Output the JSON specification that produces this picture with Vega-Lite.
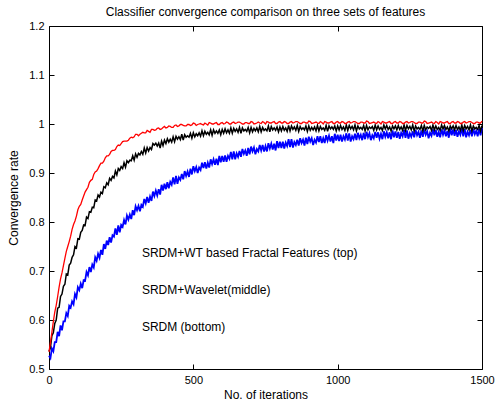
{
"$schema":"https://vega.github.io/schema/vega-lite/v6.json",
"width":433,"height":343,
"autosize":{"type":"none"},
"padding":{"left":49,"top":26,"right":13,"bottom":37},
"background":"white",
"title":{"text":"Classifier convergence comparison on three sets of features","font":"Liberation Sans","fontSize":12,"fontWeight":"normal","color":"#000","anchor":"middle","offset":1},
"config":{"view":{"stroke":"#000","strokeWidth":1},
 "axis":{"grid":false,"domain":false,"tickColor":"#000","tickSize":-5,"labelPadding":10,"labelFont":"Liberation Sans","labelFontSize":11,"labelColor":"#000","labelFlush":false,"labelOverlap":false,"titleFont":"Liberation Sans","titleFontSize":12,"titleFontWeight":"normal","titleColor":"#000"}},
"datasets":{
"curves":[
{"x":0,"r":0.535,"k":0.536,"b":0.527},{"x":10,"r":0.575,"k":0.568,"b":0.542},{"x":20,"r":0.616,"k":0.593,"b":0.555},{"x":30,"r":0.648,"k":0.624,"b":0.576},{"x":40,"r":0.684,"k":0.648,"b":0.589},{"x":50,"r":0.711,"k":0.669,"b":0.597},{"x":60,"r":0.740,"k":0.694,"b":0.614},{"x":70,"r":0.760,"k":0.712,"b":0.629},{"x":80,"r":0.785,"k":0.728,"b":0.638},{"x":90,"r":0.802,"k":0.750,"b":0.653},
{"x":100,"r":0.825,"k":0.766,"b":0.667},{"x":110,"r":0.836,"k":0.779,"b":0.674},{"x":120,"r":0.853,"k":0.794,"b":0.681},{"x":130,"r":0.866,"k":0.810,"b":0.698},{"x":140,"r":0.881,"k":0.821,"b":0.708},{"x":150,"r":0.887,"k":0.830,"b":0.713},{"x":160,"r":0.902,"k":0.845,"b":0.728},{"x":170,"r":0.909,"k":0.855,"b":0.735},{"x":180,"r":0.920,"k":0.861,"b":0.743},{"x":190,"r":0.924,"k":0.872,"b":0.755},
{"x":200,"r":0.935,"k":0.880,"b":0.762},{"x":210,"r":0.938,"k":0.889,"b":0.769},{"x":220,"r":0.946,"k":0.893,"b":0.773},{"x":230,"r":0.948,"k":0.904,"b":0.787},{"x":240,"r":0.957,"k":0.909,"b":0.793},{"x":250,"r":0.960,"k":0.913,"b":0.794},{"x":260,"r":0.965,"k":0.921,"b":0.804},{"x":270,"r":0.965,"k":0.925,"b":0.813},{"x":280,"r":0.971,"k":0.926,"b":0.815},{"x":290,"r":0.972,"k":0.935,"b":0.824},
{"x":300,"r":0.979,"k":0.939,"b":0.832},{"x":310,"r":0.976,"k":0.940,"b":0.833},{"x":320,"r":0.981,"k":0.944,"b":0.835},{"x":330,"r":0.982,"k":0.951,"b":0.847},{"x":340,"r":0.987,"k":0.952,"b":0.851},{"x":350,"r":0.983,"k":0.952,"b":0.852},{"x":360,"r":0.989,"k":0.960,"b":0.862},{"x":370,"r":0.988,"k":0.961,"b":0.864},{"x":380,"r":0.992,"k":0.961,"b":0.867},{"x":390,"r":0.990,"k":0.965,"b":0.876},
{"x":400,"r":0.995,"k":0.967,"b":0.878},{"x":410,"r":0.993,"k":0.970,"b":0.881},{"x":420,"r":0.995,"k":0.969,"b":0.882},{"x":430,"r":0.993,"k":0.974,"b":0.891},{"x":440,"r":0.998,"k":0.975,"b":0.894},{"x":450,"r":0.996,"k":0.974,"b":0.891},{"x":460,"r":0.999,"k":0.979,"b":0.898},{"x":470,"r":0.996,"k":0.978,"b":0.904},{"x":480,"r":0.999,"k":0.976,"b":0.903},{"x":490,"r":0.997,"k":0.981,"b":0.909},
{"x":500,"r":1.002,"k":0.982,"b":0.914},{"x":510,"r":0.997,"k":0.980,"b":0.912},{"x":520,"r":1.000,"k":0.982,"b":0.911},{"x":530,"r":0.999,"k":0.986,"b":0.921},{"x":540,"r":1.002,"k":0.985,"b":0.922},{"x":550,"r":0.998,"k":0.983,"b":0.921},{"x":560,"r":1.002,"k":0.988,"b":0.928},{"x":570,"r":1.000,"k":0.988,"b":0.928},{"x":580,"r":1.003,"k":0.986,"b":0.929},{"x":590,"r":0.999,"k":0.988,"b":0.935},
{"x":600,"r":1.003,"k":0.989,"b":0.935},{"x":610,"r":1.001,"k":0.990,"b":0.936},{"x":620,"r":1.003,"k":0.988,"b":0.935},{"x":630,"r":1.000,"k":0.992,"b":0.943},{"x":640,"r":1.004,"k":0.991,"b":0.944},{"x":650,"r":1.002,"k":0.990,"b":0.940},{"x":660,"r":1.004,"k":0.993,"b":0.945},{"x":670,"r":1.000,"k":0.992,"b":0.949},{"x":680,"r":1.003,"k":0.989,"b":0.946},{"x":690,"r":1.001,"k":0.993,"b":0.951},
{"x":700,"r":1.005,"k":0.993,"b":0.954},{"x":710,"r":1.000,"k":0.991,"b":0.952},{"x":720,"r":1.002,"k":0.992,"b":0.949},{"x":730,"r":1.002,"k":0.995,"b":0.957},{"x":740,"r":1.005,"k":0.993,"b":0.957},{"x":750,"r":1.000,"k":0.990,"b":0.955},{"x":760,"r":1.004,"k":0.996,"b":0.961},{"x":770,"r":1.002,"k":0.995,"b":0.960},{"x":780,"r":1.005,"k":0.992,"b":0.960},{"x":790,"r":1.001,"k":0.994,"b":0.965},
{"x":800,"r":1.005,"k":0.994,"b":0.964},{"x":810,"r":1.002,"k":0.995,"b":0.964},{"x":820,"r":1.004,"k":0.992,"b":0.962},{"x":830,"r":1.001,"k":0.997,"b":0.969},{"x":840,"r":1.005,"k":0.996,"b":0.969},{"x":850,"r":1.003,"k":0.994,"b":0.963},{"x":860,"r":1.005,"k":0.997,"b":0.968},{"x":870,"r":1.001,"k":0.995,"b":0.971},{"x":880,"r":1.004,"k":0.992,"b":0.968},{"x":890,"r":1.002,"k":0.996,"b":0.972},
{"x":900,"r":1.006,"k":0.996,"b":0.974},{"x":910,"r":1.001,"k":0.993,"b":0.971},{"x":920,"r":1.003,"k":0.994,"b":0.968},{"x":930,"r":1.002,"k":0.997,"b":0.975},{"x":940,"r":1.005,"k":0.995,"b":0.975},{"x":950,"r":1.000,"k":0.992,"b":0.971},{"x":960,"r":1.004,"k":0.997,"b":0.977},{"x":970,"r":1.002,"k":0.996,"b":0.976},{"x":980,"r":1.005,"k":0.994,"b":0.975},{"x":990,"r":1.001,"k":0.996,"b":0.980},
{"x":1000,"r":1.005,"k":0.996,"b":0.978},{"x":1010,"r":1.002,"k":0.997,"b":0.978},{"x":1020,"r":1.004,"k":0.994,"b":0.975},{"x":1030,"r":1.001,"k":0.998,"b":0.981},{"x":1040,"r":1.005,"k":0.997,"b":0.981},{"x":1050,"r":1.003,"k":0.995,"b":0.975},{"x":1060,"r":1.005,"k":0.998,"b":0.980},{"x":1070,"r":1.001,"k":0.996,"b":0.982},{"x":1080,"r":1.004,"k":0.993,"b":0.978},{"x":1090,"r":1.002,"k":0.997,"b":0.982},
{"x":1100,"r":1.006,"k":0.997,"b":0.984},{"x":1110,"r":1.001,"k":0.994,"b":0.981},{"x":1120,"r":1.003,"k":0.995,"b":0.977},{"x":1130,"r":1.002,"k":0.998,"b":0.984},{"x":1140,"r":1.005,"k":0.996,"b":0.983},{"x":1150,"r":1.000,"k":0.993,"b":0.980},{"x":1160,"r":1.004,"k":0.998,"b":0.985},{"x":1170,"r":1.002,"k":0.997,"b":0.983},{"x":1180,"r":1.005,"k":0.994,"b":0.983},{"x":1190,"r":1.001,"k":0.996,"b":0.987},
{"x":1200,"r":1.005,"k":0.996,"b":0.985},{"x":1210,"r":1.002,"k":0.997,"b":0.984},{"x":1220,"r":1.004,"k":0.994,"b":0.982},{"x":1230,"r":1.001,"k":0.998,"b":0.988},{"x":1240,"r":1.005,"k":0.997,"b":0.987},{"x":1250,"r":1.003,"k":0.995,"b":0.981},{"x":1260,"r":1.005,"k":0.998,"b":0.985},{"x":1270,"r":1.001,"k":0.996,"b":0.988},{"x":1280,"r":1.004,"k":0.993,"b":0.984},{"x":1290,"r":1.002,"k":0.997,"b":0.987},
{"x":1300,"r":1.006,"k":0.997,"b":0.989},{"x":1310,"r":1.001,"k":0.994,"b":0.985},{"x":1320,"r":1.003,"k":0.995,"b":0.982},{"x":1330,"r":1.002,"k":0.998,"b":0.989},{"x":1340,"r":1.005,"k":0.996,"b":0.988},{"x":1350,"r":1.000,"k":0.993,"b":0.984},{"x":1360,"r":1.004,"k":0.998,"b":0.989},{"x":1370,"r":1.002,"k":0.997,"b":0.987},{"x":1380,"r":1.005,"k":0.994,"b":0.986},{"x":1390,"r":1.001,"k":0.996,"b":0.991},
{"x":1400,"r":1.005,"k":0.996,"b":0.989},{"x":1410,"r":1.002,"k":0.997,"b":0.988},{"x":1420,"r":1.004,"k":0.994,"b":0.985},{"x":1430,"r":1.001,"k":0.998,"b":0.991},{"x":1440,"r":1.005,"k":0.997,"b":0.990},{"x":1450,"r":1.003,"k":0.995,"b":0.984},{"x":1460,"r":1.005,"k":0.998,"b":0.988},{"x":1470,"r":1.001,"k":0.996,"b":0.990},{"x":1480,"r":1.004,"k":0.993,"b":0.986},{"x":1490,"r":1.002,"k":0.997,"b":0.990},
{"x":1500,"r":1.006,"k":0.997,"b":0.992},
{"x":5,"r":0.554,"k":0.543,"b":0.522},{"x":15,"r":0.597,"k":0.574,"b":0.536},{"x":25,"r":0.630,"k":0.600,"b":0.555},{"x":35,"r":0.667,"k":0.626,"b":0.567},{"x":45,"r":0.696,"k":0.653,"b":0.579},{"x":55,"r":0.726,"k":0.673,"b":0.597},{"x":65,"r":0.750,"k":0.692,"b":0.608},{"x":75,"r":0.771,"k":0.716,"b":0.625},{"x":85,"r":0.795,"k":0.733,"b":0.632},{"x":95,"r":0.812,"k":0.747,"b":0.646},
{"x":105,"r":0.832,"k":0.765,"b":0.661},{"x":115,"r":0.845,"k":0.783,"b":0.665},{"x":125,"r":0.861,"k":0.793,"b":0.680},{"x":135,"r":0.871,"k":0.807,"b":0.691},{"x":145,"r":0.885,"k":0.820,"b":0.698},{"x":155,"r":0.897,"k":0.829,"b":0.707},{"x":165,"r":0.904,"k":0.843,"b":0.721},{"x":175,"r":0.915,"k":0.851,"b":0.727},{"x":185,"r":0.920,"k":0.858,"b":0.733},{"x":195,"r":0.931,"k":0.870,"b":0.745},
{"x":205,"r":0.935,"k":0.876,"b":0.753},{"x":215,"r":0.944,"k":0.885,"b":0.758},{"x":225,"r":0.946,"k":0.890,"b":0.770},{"x":235,"r":0.954,"k":0.896,"b":0.774},{"x":245,"r":0.956,"k":0.905,"b":0.779},{"x":255,"r":0.964,"k":0.909,"b":0.790},{"x":265,"r":0.965,"k":0.912,"b":0.795},{"x":275,"r":0.967,"k":0.921,"b":0.805},{"x":285,"r":0.973,"k":0.925,"b":0.806},{"x":295,"r":0.974,"k":0.926,"b":0.814},
{"x":305,"r":0.979,"k":0.932,"b":0.824},{"x":315,"r":0.979,"k":0.937,"b":0.822},{"x":325,"r":0.983,"k":0.938,"b":0.831},{"x":335,"r":0.982,"k":0.941,"b":0.838},{"x":345,"r":0.985,"k":0.945,"b":0.839},{"x":355,"r":0.989,"k":0.948,"b":0.843},{"x":365,"r":0.987,"k":0.957,"b":0.853},{"x":375,"r":0.991,"k":0.955,"b":0.854},{"x":385,"r":0.989,"k":0.951,"b":0.856},{"x":395,"r":0.993,"k":0.956,"b":0.864},
{"x":405,"r":0.992,"k":0.960,"b":0.867},{"x":415,"r":0.996,"k":0.963,"b":0.869},{"x":425,"r":0.993,"k":0.963,"b":0.876},{"x":435,"r":0.997,"k":0.964,"b":0.877},{"x":445,"r":0.995,"k":0.969,"b":0.878},{"x":455,"r":0.999,"k":0.968,"b":0.886},{"x":465,"r":0.997,"k":0.967,"b":0.887},{"x":475,"r":0.996,"k":0.973,"b":0.894},{"x":485,"r":0.999,"k":0.973,"b":0.892},{"x":495,"r":0.998,"k":0.971,"b":0.897},
{"x":505,"r":1.001,"k":0.974,"b":0.904},{"x":515,"r":0.999,"k":0.976,"b":0.900},{"x":525,"r":1.001,"k":0.975,"b":0.906},{"x":535,"r":0.998,"k":0.976,"b":0.910},{"x":545,"r":1.000,"k":0.979,"b":0.909},{"x":555,"r":1.003,"k":0.978,"b":0.911},{"x":565,"r":1.000,"k":0.977,"b":0.918},{"x":575,"r":1.002,"k":0.981,"b":0.917},{"x":585,"r":0.999,"k":0.981,"b":0.916},{"x":595,"r":1.002,"k":0.978,"b":0.922},
{"x":605,"r":1.000,"k":0.981,"b":0.923},{"x":615,"r":1.004,"k":0.982,"b":0.923},{"x":625,"r":1.000,"k":0.981,"b":0.929},{"x":635,"r":1.003,"k":0.981,"b":0.928},{"x":645,"r":1.001,"k":0.985,"b":0.928},{"x":655,"r":1.004,"k":0.983,"b":0.933},{"x":665,"r":1.002,"k":0.981,"b":0.933},{"x":675,"r":1.000,"k":0.986,"b":0.939},{"x":685,"r":1.003,"k":0.985,"b":0.935},{"x":695,"r":1.001,"k":0.982,"b":0.938},
{"x":705,"r":1.004,"k":0.984,"b":0.944},{"x":715,"r":1.001,"k":0.986,"b":0.938},{"x":725,"r":1.004,"k":0.984,"b":0.944},{"x":735,"r":1.001,"k":0.984,"b":0.946},{"x":745,"r":1.003,"k":0.987,"b":0.944},{"x":755,"r":1.005,"k":0.986,"b":0.944},{"x":765,"r":1.002,"k":0.984,"b":0.950},{"x":775,"r":1.004,"k":0.988,"b":0.948},{"x":785,"r":1.001,"k":0.987,"b":0.946},{"x":795,"r":1.004,"k":0.984,"b":0.951},
{"x":805,"r":1.002,"k":0.986,"b":0.951},{"x":815,"r":1.005,"k":0.987,"b":0.950},{"x":825,"r":1.001,"k":0.985,"b":0.955},{"x":835,"r":1.004,"k":0.986,"b":0.953},{"x":845,"r":1.002,"k":0.989,"b":0.952},{"x":855,"r":1.005,"k":0.987,"b":0.957},{"x":865,"r":1.003,"k":0.985,"b":0.956},{"x":875,"r":1.001,"k":0.989,"b":0.961},{"x":885,"r":1.004,"k":0.988,"b":0.956},{"x":895,"r":1.002,"k":0.985,"b":0.959},
{"x":905,"r":1.005,"k":0.987,"b":0.964},{"x":915,"r":1.002,"k":0.988,"b":0.957},{"x":925,"r":1.004,"k":0.986,"b":0.962},{"x":935,"r":1.001,"k":0.986,"b":0.963},{"x":945,"r":1.003,"k":0.989,"b":0.961},{"x":955,"r":1.005,"k":0.987,"b":0.961},{"x":965,"r":1.002,"k":0.985,"b":0.966},{"x":975,"r":1.004,"k":0.990,"b":0.964},{"x":985,"r":1.001,"k":0.989,"b":0.961},{"x":995,"r":1.004,"k":0.986,"b":0.966},
{"x":1005,"r":1.002,"k":0.988,"b":0.965},{"x":1015,"r":1.005,"k":0.989,"b":0.964},{"x":1025,"r":1.001,"k":0.987,"b":0.968},{"x":1035,"r":1.004,"k":0.987,"b":0.966},{"x":1045,"r":1.002,"k":0.990,"b":0.964},{"x":1055,"r":1.005,"k":0.988,"b":0.969},{"x":1065,"r":1.003,"k":0.986,"b":0.967},{"x":1075,"r":1.001,"k":0.990,"b":0.971},{"x":1085,"r":1.004,"k":0.989,"b":0.967},{"x":1095,"r":1.002,"k":0.986,"b":0.969},
{"x":1105,"r":1.005,"k":0.988,"b":0.973},{"x":1115,"r":1.002,"k":0.991,"b":0.967},{"x":1125,"r":1.004,"k":0.987,"b":0.971},{"x":1135,"r":1.001,"k":0.988,"b":0.972},{"x":1145,"r":1.003,"k":0.989,"b":0.970},{"x":1155,"r":1.005,"k":0.987,"b":0.969},{"x":1165,"r":1.002,"k":0.990,"b":0.974},{"x":1175,"r":1.004,"k":0.989,"b":0.971},{"x":1185,"r":1.001,"k":0.986,"b":0.969},{"x":1195,"r":1.004,"k":0.990,"b":0.973},
{"x":1205,"r":1.002,"k":0.988,"b":0.972},{"x":1215,"r":1.005,"k":0.989,"b":0.970},{"x":1225,"r":1.001,"k":0.987,"b":0.975},{"x":1235,"r":1.004,"k":0.987,"b":0.972},{"x":1245,"r":1.002,"k":0.990,"b":0.970},{"x":1255,"r":1.005,"k":0.988,"b":0.974},{"x":1265,"r":1.003,"k":0.986,"b":0.973},{"x":1275,"r":1.001,"k":0.990,"b":0.977},{"x":1285,"r":1.004,"k":0.989,"b":0.972},{"x":1295,"r":1.002,"k":0.986,"b":0.974},
{"x":1305,"r":1.005,"k":0.988,"b":0.978},{"x":1315,"r":1.002,"k":0.991,"b":0.971},{"x":1325,"r":1.004,"k":0.987,"b":0.976},{"x":1335,"r":1.001,"k":0.988,"b":0.977},{"x":1345,"r":1.003,"k":0.989,"b":0.974},{"x":1355,"r":1.005,"k":0.987,"b":0.973},{"x":1365,"r":1.002,"k":0.990,"b":0.978},{"x":1375,"r":1.004,"k":0.989,"b":0.975},{"x":1385,"r":1.001,"k":0.986,"b":0.972},{"x":1395,"r":1.004,"k":0.990,"b":0.977},
{"x":1405,"r":1.002,"k":0.988,"b":0.976},{"x":1415,"r":1.005,"k":0.989,"b":0.974},{"x":1425,"r":1.001,"k":0.987,"b":0.978},{"x":1435,"r":1.004,"k":0.987,"b":0.975},{"x":1445,"r":1.002,"k":0.990,"b":0.973},{"x":1455,"r":1.005,"k":0.988,"b":0.977},{"x":1465,"r":1.003,"k":0.986,"b":0.975},{"x":1475,"r":1.001,"k":0.990,"b":0.979},{"x":1485,"r":1.004,"k":0.989,"b":0.975},{"x":1495,"r":1.002,"k":0.986,"b":0.977}
],
"notes":[
{"x":322,"y":0.737,"label":"SRDM+WT based Fractal Features (top)"},
{"x":322,"y":0.661,"label":"SRDM+Wavelet(middle)"},
{"x":322,"y":0.586,"label":"SRDM (bottom)"}
]},
"resolve":{"axis":{"x":"independent","y":"independent"}},
"layer":[
{"data":{"name":"curves"},"mark":{"type":"line","color":"#0000ff","strokeWidth":1.8},
 "encoding":{
  "x":{"field":"x","type":"quantitative","scale":{"domain":[0,1500],"nice":false,"zero":false},
   "axis":{"orient":"bottom","values":[0,500,1000,1500],"format":"d","title":"No. of iterations","titlePadding":4}},
  "y":{"field":"b","type":"quantitative","scale":{"domain":[0.5,1.2],"nice":false,"zero":false},
   "axis":{"orient":"left","values":[0.5,0.6,0.7,0.8,0.9,1,1.1,1.2],"format":"~g","title":"Convergence rate","titlePadding":8}}}},
{"data":{"name":"curves"},"mark":{"type":"line","color":"#000000","strokeWidth":1.5},
 "encoding":{
  "x":{"field":"x","type":"quantitative","axis":null},
  "y":{"field":"k","type":"quantitative","axis":null}}},
{"data":{"name":"curves"},"mark":{"type":"line","color":"#ff0000","strokeWidth":1.3},
 "encoding":{
  "x":{"field":"x","type":"quantitative","axis":null},
  "y":{"field":"r","type":"quantitative","axis":null}}},
{"data":{"name":"notes"},"mark":{"type":"text","align":"left","baseline":"middle","font":"Liberation Sans","fontSize":12,"color":"#000"},
 "encoding":{
  "x":{"field":"x","type":"quantitative","axis":{"orient":"top","values":[0,500,1000,1500],"labels":false,"title":null}},
  "y":{"field":"y","type":"quantitative","axis":{"orient":"right","values":[0.5,0.6,0.7,0.8,0.9,1,1.1,1.2],"labels":false,"title":null}},
  "text":{"field":"label"}}}
]
}
